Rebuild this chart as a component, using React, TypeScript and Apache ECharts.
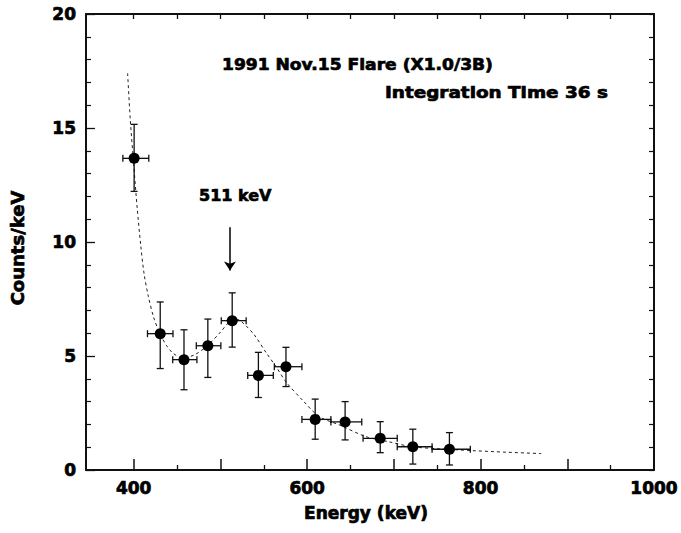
import React, { useEffect, useRef } from "react";
import * as echarts from "echarts";

// Measured spectrum points (Energy keV, Counts/keV) with error bars
const energy = [400.5, 430.6, 458.0, 485.5, 513.6, 543.8, 575.6, 609.3, 643.8, 684.3, 721.9, 764.1];
const energyLow = [387.5, 415.9, 445.0, 472.2, 501.0, 531.5, 562.2, 594.0, 627.4, 664.5, 703.9, 744.1];
const energyHigh = [417.4, 445.3, 472.9, 500.5, 529.7, 561.0, 594.0, 627.4, 663.0, 703.9, 744.1, 788.2];
const counts = [13.67, 5.98, 4.84, 5.45, 6.55, 4.15, 4.53, 2.22, 2.11, 1.39, 1.02, 0.91];
const countsLow = [12.22, 4.45, 3.52, 4.06, 5.39, 3.18, 3.66, 1.35, 1.32, 0.76, 0.26, 0.22];
const countsHigh = [15.16, 7.37, 6.15, 6.62, 7.77, 5.16, 5.38, 3.11, 3.0, 2.12, 1.79, 1.64];

// Fitted model curve (dotted)
const curveEnergy = [393, 396, 400, 404, 408, 412, 417, 423, 430, 438, 446, 457, 470, 484, 499, 512, 520, 526, 539, 553, 564, 576, 595, 614, 637, 668, 694, 721, 752, 790, 830, 870];
const curveCounts = [17.4, 15.4, 13.4, 11.5, 9.9, 8.6, 7.6, 6.7, 6.0, 5.45, 5.1, 4.92, 5.05, 5.42, 6.0, 6.55, 6.6, 6.45, 5.93, 5.13, 4.54, 3.85, 3.05, 2.34, 1.98, 1.46, 1.24, 1.02, 0.93, 0.85, 0.78, 0.72];

// 511 keV arrow
const arrowEnergy = [511, 511];
const arrowCounts = [10.65, 8.75];

// Axis ticks / labels
const xMajorTicks = [400, 500, 600, 700, 800, 900, 1000];
const xMinorTicks = [450, 550, 650, 750, 850, 950];
const xTopTicks = [400, 450, 500, 550, 600, 650, 700, 750, 800, 850, 900, 950];
const xLabels = [400, 600, 800, 1000];

const FONT = "DejaVu Sans";

export default function App() {
  const ref = useRef<HTMLDivElement>(null);

  useEffect(() => {
    document.body.style.margin = "0";
    const chart = echarts.init(ref.current!, null, { renderer: "svg" });

    const errData = energy.map((e, i) => [e, counts[i], energyLow[i], energyHigh[i], countsLow[i], countsHigh[i]]);

    const lineStyle = { stroke: "#111", lineWidth: 1.3 };
    const heavy = { textBorderColor: "#000", textBorderWidth: 0.7 };

    const option: any = {
      animation: false,
      backgroundColor: "#fff",
      grid: { left: 86, right: 25, top: 14, bottom: 63 },
      xAxis: [
        {
          type: "value",
          min: 345,
          max: 1000,
          position: "bottom",
          axisLine: { show: true, lineStyle: { color: "#111", width: 2 } },
          axisTick: { show: true, inside: true, length: 11, customValues: xMajorTicks, lineStyle: { color: "#111", width: 1.5 } },
          axisLabel: {
            customValues: xLabels,
            formatter: (v: number) => String(v),
            fontFamily: FONT,
            fontWeight: "bold",
            fontSize: 17,
            color: "#000",
            margin: 9,
            ...heavy,
          },
          splitLine: { show: false },
        },
        {
          type: "value",
          min: 345,
          max: 1000,
          position: "bottom",
          axisLine: { show: false },
          axisTick: { show: true, inside: true, length: 5, customValues: xMinorTicks, lineStyle: { color: "#111", width: 1.3 } },
          axisLabel: { show: false },
          splitLine: { show: false },
        },
        {
          type: "value",
          min: 345,
          max: 1000,
          position: "top",
          axisLine: { show: true, lineStyle: { color: "#111", width: 2 } },
          axisTick: { show: true, inside: true, length: 5, customValues: xTopTicks, lineStyle: { color: "#111", width: 1.3 } },
          axisLabel: { show: false },
          splitLine: { show: false },
        },
      ],
      yAxis: [
        {
          type: "value",
          min: 0,
          max: 20,
          interval: 5,
          position: "left",
          axisLine: { show: true, lineStyle: { color: "#111", width: 2 } },
          axisTick: { show: true, inside: true, length: 9, lineStyle: { color: "#111", width: 1.3 } },
          minorTick: { show: true, splitNumber: 5, length: 5, lineStyle: { color: "#111", width: 1.2 } },
          axisLabel: { fontFamily: FONT, fontWeight: "bold", fontSize: 17, color: "#000", margin: 10, ...heavy },
          splitLine: { show: false },
          minorSplitLine: { show: false },
        },
        {
          type: "value",
          min: 0,
          max: 20,
          interval: 1,
          position: "right",
          axisLine: { show: true, lineStyle: { color: "#111", width: 2 } },
          axisTick: { show: true, inside: true, length: 5, lineStyle: { color: "#111", width: 1.2 } },
          axisLabel: { show: false },
          splitLine: { show: false },
        },
      ],
      series: [
        {
          type: "line",
          xAxisIndex: 0,
          yAxisIndex: 0,
          data: curveEnergy.map((e, i) => [e, curveCounts[i]]),
          showSymbol: false,
          symbol: "none",
          smooth: 0.3,
          lineStyle: { color: "#222", width: 1, type: [3, 3] },
          z: 2,
        },
        {
          type: "custom",
          xAxisIndex: 0,
          yAxisIndex: 0,
          data: errData,
          renderItem: (params: any, api: any) => {
            const x = api.value(0);
            const y = api.value(1);
            const c = api.coord([x, y]);
            const l = api.coord([api.value(2), y]);
            const r = api.coord([api.value(3), y]);
            const lo = api.coord([x, api.value(4)]);
            const hi = api.coord([x, api.value(5)]);
            const cap = 3.5;
            return {
              type: "group",
              children: [
                { type: "line", shape: { x1: l[0], y1: c[1], x2: r[0], y2: c[1] }, style: lineStyle },
                { type: "line", shape: { x1: l[0], y1: c[1] - cap, x2: l[0], y2: c[1] + cap }, style: lineStyle },
                { type: "line", shape: { x1: r[0], y1: c[1] - cap, x2: r[0], y2: c[1] + cap }, style: lineStyle },
                { type: "line", shape: { x1: c[0], y1: lo[1], x2: c[0], y2: hi[1] }, style: lineStyle },
                { type: "line", shape: { x1: c[0] - cap, y1: hi[1], x2: c[0] + cap, y2: hi[1] }, style: lineStyle },
                { type: "line", shape: { x1: c[0] - cap, y1: lo[1], x2: c[0] + cap, y2: lo[1] }, style: lineStyle },
              ],
            };
          },
          z: 3,
        },
        {
          type: "scatter",
          xAxisIndex: 0,
          yAxisIndex: 0,
          data: energy.map((e, i) => [e, counts[i]]),
          symbol: "circle",
          symbolSize: 11,
          itemStyle: { color: "#000", opacity: 1 },
          z: 4,
        },
        {
          type: "lines",
          coordinateSystem: "cartesian2d",
          xAxisIndex: 0,
          yAxisIndex: 0,
          data: [{ coords: arrowEnergy.map((e, i) => [e, arrowCounts[i]]) }],
          symbol: ["none", "arrow"],
          symbolSize: 9,
          lineStyle: { color: "#000", width: 1.5, opacity: 1 },
          z: 4,
        },
      ],
      graphic: [
        {
          type: "text",
          x: 222,
          y: 65,
          scaleX: 1.07,
          style: {
            text: "1991 Nov.15 Flare (X1.0/3B)",
            font: `bold 16px "${FONT}"`,
            fill: "#000",
            stroke: "#000",
            lineWidth: 0.7,
            textAlign: "left",
            textVerticalAlign: "middle",
          },
        },
        {
          type: "text",
          x: 385,
          y: 92,
          scaleX: 1.15,
          style: {
            text: "Integration Time 36 s",
            font: `bold 16px "${FONT}"`,
            fill: "#000",
            stroke: "#000",
            lineWidth: 0.7,
            textAlign: "left",
            textVerticalAlign: "middle",
          },
        },
        {
          type: "text",
          x: 199,
          y: 195,
          style: {
            text: "511 keV",
            font: `bold 16px "${FONT}"`,
            fill: "#000",
            stroke: "#000",
            lineWidth: 0.7,
            textAlign: "left",
            textVerticalAlign: "middle",
          },
        },
        {
          type: "text",
          x: 366,
          y: 513,
          style: {
            text: "Energy (keV)",
            font: `bold 17px "${FONT}"`,
            fill: "#000",
            stroke: "#000",
            lineWidth: 0.7,
            textAlign: "center",
            textVerticalAlign: "middle",
          },
        },
        {
          type: "text",
          x: 17,
          y: 248,
          rotation: Math.PI / 2,
          style: {
            text: "Counts/keV",
            font: `bold 18px "${FONT}"`,
            fill: "#000",
            stroke: "#000",
            lineWidth: 0.7,
            textAlign: "center",
            textVerticalAlign: "middle",
          },
        },
      ],
    };

    chart.setOption(option);
    return () => chart.dispose();
  }, []);

  return (
    <div
      ref={ref}
      style={{ position: "fixed", left: 0, top: 0, width: 681, height: 533, background: "#fff" }}
    />
  );
}
